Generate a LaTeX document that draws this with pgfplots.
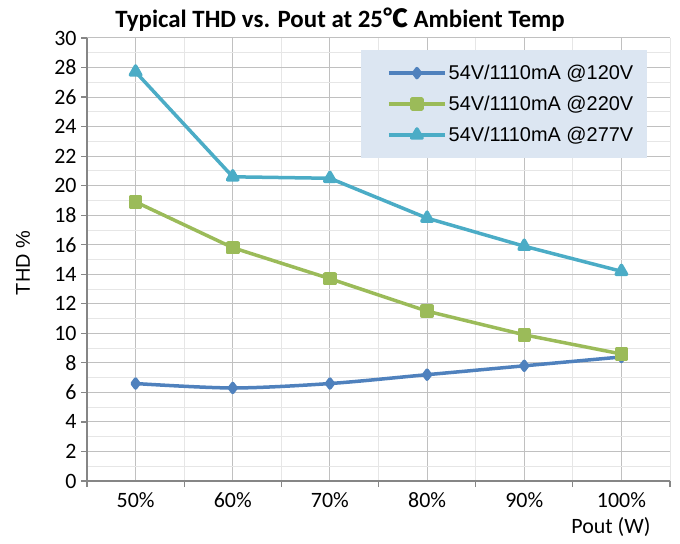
\documentclass[border=0pt]{standalone}
\usepackage{fontspec}
\setmainfont{Carlito}
\newfontfamily\arial{Liberation Sans}
\newfontfamily\cjk{Noto Sans CJK SC}
\usepackage{pgfplots}
\pgfplotsset{compat=1.18}
\definecolor{c1}{HTML}{4F81BD}
\definecolor{c2}{HTML}{9BBB59}
\definecolor{c3}{HTML}{4BACC6}
\definecolor{legbg}{HTML}{DCE6F2}
\definecolor{majg}{HTML}{C0C0C0}
\definecolor{ming}{HTML}{E6E6E6}
\definecolor{axg}{HTML}{868686}
\begin{document}
\begin{tikzpicture}
\path[use as bounding box] (0,0) rectangle (680bp,544bp);
\begin{axis}[
 at={(87bp,63bp)}, anchor=south west,
 scale only axis, width=583bp, height=443bp,
 xmin=0, xmax=6, ymin=0, ymax=30,
 /pgf/number format/assume math mode=true,
 axis x line=bottom, axis y line=left,
 axis line style={draw=axg, line width=1.3bp, -},
 xtick={0.5,1.5,2.5,3.5,4.5,5.5},
 xticklabels={50\%,60\%,70\%,80\%,90\%,100\%},
 minor xtick={0,1,2,3,4,5,6},
 ytick={0,2,...,30}, minor ytick={1,3,...,29},
 grid=both,
 major grid style={draw=majg, line width=1bp},
 minor grid style={draw=ming, line width=0.8bp},
 tick align=outside, major tick length=6bp, minor tick length=6bp,
 every major x tick/.style={draw=none},
 every minor y tick/.style={draw=none},
 every major y tick/.style={draw=axg, line width=1.2bp},
 every minor x tick/.style={draw=axg, line width=1.2bp},
 xticklabel style={font=\fontsize{22}{23}\selectfont, yshift=-2bp},
 yticklabel style={font=\fontsize{22}{23}\selectfont, xshift=-1bp},
 legend style={at={(0.47,0.973)}, anchor=north west, fill=legbg, draw=none,
   font=\arial\fontsize{20}{22}\selectfont, inner xsep=12bp, inner ysep=13bp,
   row sep=11bp, /tikz/every even column/.append style={column sep=0bp}},
 legend cell align=left,
 legend image code/.code={
   \path (-14bp,0bp);
   \draw[#1, mark repeat=2, mark phase=2] plot coordinates {(0bp,0bp) (28bp,0bp) (56bp,0bp)};
 },
]
\addplot[c1, line width=3.5bp, smooth, mark=diamond*, mark size=4.5bp, line join=round]
 coordinates {(0.5,6.6) (1.5,6.3) (2.5,6.6) (3.5,7.2) (4.5,7.8) (5.5,8.4)};
\addlegendentry{54V/1110mA @120V}
\addplot[c2, line width=3.5bp, mark=square*, mark size=5bp, line join=round]
 coordinates {(0.5,18.9) (1.5,15.8) (2.5,13.7) (3.5,11.5) (4.5,9.9) (5.5,8.6)};
\addlegendentry{54V/1110mA @220V}
\addplot[c3, line width=3.5bp, mark=triangle*, mark size=6bp, line join=round]
 coordinates {(0.5,27.7) (1.5,20.6) (2.5,20.5) (3.5,17.8) (4.5,15.9) (5.5,14.2)};
\addlegendentry{54V/1110mA @277V}
\end{axis}
\node at (340bp,524bp) {\fontsize{25}{28}\selectfont\bfseries Typical THD vs. Pout at 25{\cjk\bfseries ℃} Ambient Temp};
\node[anchor=east] at (654bp,17bp) {\fontsize{22}{24}\selectfont Pout (W)};
\node[rotate=90] at (23bp,281bp) {\arial\fontsize{20}{22}\selectfont THD \%};
\end{tikzpicture}
\end{document}
